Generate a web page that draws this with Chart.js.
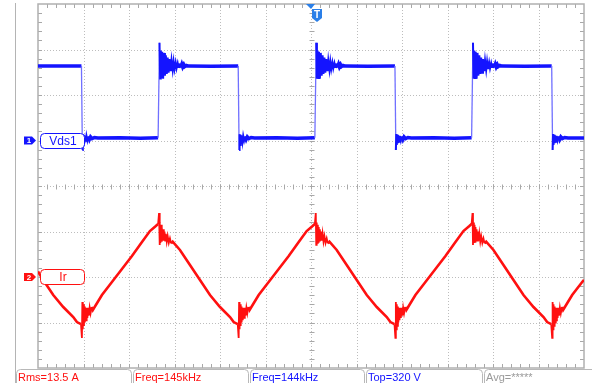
<!DOCTYPE html>
<html>
<head>
<meta charset="utf-8">
<script src="https://cdn.jsdelivr.net/npm/chart.js@4.4.1/dist/chart.umd.min.js"></script>
<style>
  html, body { margin: 0; padding: 0; background: #ffffff; }
  #wrap { width: 592px; height: 383px; position: relative; }
</style>
</head>
<body>
<div id="wrap"><canvas id="scope"></canvas></div>
<script>
// Captured traces: time in µs, Vds in volts, Ir in amperes.
const vdsTrace = [
  [0,327],[0.9,328],[1.91,327],
  // turn-off edge
  [1.95,-42],[1.97,28],[1.99,-20],[2.02,25],[2.04,-12],[2.07,22],[2.10,-5],[2.13,20],[2.17,0],[2.21,18],[2.26,5],[2.31,16],[2.38,8],[2.48,13],[2.63,11],
  [3.6,12],[4.5,10],[5.28,12],
  // turn-on edge
  [5.34,430],[5.37,272],[5.40,395],[5.43,275],[5.46,390],[5.50,272],[5.54,385],[5.58,285],[5.62,375],[5.66,292],[5.70,365],[5.74,298],[5.78,358],[5.83,305],[5.87,352],[5.92,310],[5.96,347],[6.00,314],[6.05,343],[6.09,317],[6.14,340],[6.18,319],[6.23,338],[6.27,321],[6.32,335],[6.36,323],[6.41,333],[6.45,325],[6.52,330],[6.62,327],
  [7.6,326],[8.80,327],
  [8.84,-42],[8.86,28],[8.88,-20],[8.91,25],[8.93,-12],[8.96,22],[8.99,-5],[9.02,20],[9.06,0],[9.10,18],[9.15,5],[9.20,16],[9.27,8],[9.37,13],[9.52,11],
  [10.5,12],[11.4,10],[12.17,12],
  [12.23,430],[12.26,272],[12.29,395],[12.32,275],[12.35,390],[12.39,272],[12.43,385],[12.47,285],[12.51,375],[12.55,292],[12.59,365],[12.63,298],[12.67,358],[12.72,305],[12.76,352],[12.81,310],[12.85,347],[12.89,314],[12.94,343],[12.98,317],[13.03,340],[13.07,319],[13.12,338],[13.16,321],[13.21,335],[13.25,323],[13.30,333],[13.34,325],[13.41,330],[13.51,327],
  [14.5,326],[15.69,327],
  [15.73,-42],[15.75,28],[15.77,-20],[15.80,25],[15.82,-12],[15.85,22],[15.88,-5],[15.91,20],[15.95,0],[15.99,18],[16.04,5],[16.09,16],[16.16,8],[16.26,13],[16.41,11],
  [17.4,12],[18.3,10],[19.06,12],
  [19.12,430],[19.15,272],[19.18,395],[19.21,275],[19.24,390],[19.28,272],[19.32,385],[19.36,285],[19.40,375],[19.44,292],[19.48,365],[19.52,298],[19.56,358],[19.61,305],[19.65,352],[19.70,310],[19.74,347],[19.78,314],[19.83,343],[19.87,317],[19.92,340],[19.96,319],[20.01,338],[20.05,321],[20.10,335],[20.14,323],[20.19,333],[20.23,325],[20.30,330],[20.40,327],
  [21.4,326],[22.58,327],
  [22.62,-42],[22.64,28],[22.66,-20],[22.69,25],[22.71,-12],[22.74,22],[22.77,-5],[22.80,20],[22.84,0],[22.88,18],[22.93,5],[22.98,16],[23.05,8],[23.15,13],[23.30,11],
  [24,11]
];

const irTrace = [
  [0,2.4],[0.23,-1.3],[0.67,-7.9],[1.11,-13.2],[1.55,-17.6],[1.71,-19.8],[1.89,-20.7],
  // trough with switching ripple
  [1.93,-26.8],[1.95,-11.0],[1.97,-23.0],[1.99,-12.0],[2.02,-21.5],[2.04,-13.0],[2.06,-20.0],[2.09,-13.5],[2.11,-19.0],[2.14,-13.5],[2.17,-18.0],[2.20,-13.5],[2.23,-17.0],[2.27,-13.5],[2.31,-16.0],[2.36,-13.2],[2.41,-14.5],
  [2.81,-7.9],[3.25,-2.2],[3.69,3.5],[4.13,9.2],[4.57,15.4],[4.92,20.2],[5.18,22.4],[5.28,23.3],
  // crest with switching ripple
  [5.32,28.1],[5.34,14.1],[5.36,24.0],[5.38,15.0],[5.41,23.0],[5.43,15.5],[5.45,22.0],[5.48,16.0],[5.50,21.0],[5.53,16.0],[5.56,20.0],[5.59,16.0],[5.62,19.0],[5.66,15.5],[5.70,18.0],[5.75,15.0],[5.80,17.0],[5.85,14.8],[5.92,15.5],
  [6.24,11.9],[6.68,5.3],[7.12,-1.3],[7.56,-7.9],[8.00,-13.2],[8.44,-17.6],[8.60,-19.8],[8.78,-20.7],
  [8.82,-26.8],[8.84,-11.0],[8.86,-23.0],[8.88,-12.0],[8.91,-21.5],[8.93,-13.0],[8.95,-20.0],[8.98,-13.5],[9.00,-19.0],[9.03,-13.5],[9.06,-18.0],[9.09,-13.5],[9.12,-17.0],[9.16,-13.5],[9.20,-16.0],[9.25,-13.2],[9.30,-14.5],
  [9.70,-7.9],[10.14,-2.2],[10.58,3.5],[11.02,9.2],[11.46,15.4],[11.81,20.2],[12.07,22.4],[12.17,23.3],
  [12.21,28.1],[12.23,14.1],[12.25,24.0],[12.27,15.0],[12.30,23.0],[12.32,15.5],[12.34,22.0],[12.37,16.0],[12.39,21.0],[12.42,16.0],[12.45,20.0],[12.48,16.0],[12.51,19.0],[12.55,15.5],[12.59,18.0],[12.64,15.0],[12.69,17.0],[12.74,14.8],[12.81,15.5],
  [13.13,11.9],[13.57,5.3],[14.01,-1.3],[14.45,-7.9],[14.89,-13.2],[15.33,-17.6],[15.49,-19.8],[15.67,-20.7],
  [15.71,-26.8],[15.73,-11.0],[15.75,-23.0],[15.77,-12.0],[15.80,-21.5],[15.82,-13.0],[15.84,-20.0],[15.87,-13.5],[15.89,-19.0],[15.92,-13.5],[15.95,-18.0],[15.98,-13.5],[16.01,-17.0],[16.05,-13.5],[16.09,-16.0],[16.14,-13.2],[16.19,-14.5],
  [16.59,-7.9],[17.03,-2.2],[17.47,3.5],[17.91,9.2],[18.35,15.4],[18.70,20.2],[18.96,22.4],[19.06,23.3],
  [19.10,28.1],[19.12,14.1],[19.14,24.0],[19.16,15.0],[19.19,23.0],[19.21,15.5],[19.23,22.0],[19.26,16.0],[19.28,21.0],[19.31,16.0],[19.34,20.0],[19.37,16.0],[19.40,19.0],[19.44,15.5],[19.48,18.0],[19.53,15.0],[19.58,17.0],[19.63,14.8],[19.70,15.5],
  [20.02,11.9],[20.46,5.3],[20.90,-1.3],[21.34,-7.9],[21.78,-13.2],[22.22,-17.6],[22.38,-19.8],[22.56,-20.7],
  [22.60,-26.8],[22.62,-11.0],[22.64,-23.0],[22.66,-12.0],[22.69,-21.5],[22.71,-13.0],[22.73,-20.0],[22.76,-13.5],[22.78,-19.0],[22.81,-13.5],[22.84,-18.0],[22.87,-13.5],[22.90,-17.0],[22.94,-13.5],[22.98,-16.0],[23.03,-13.2],[23.08,-14.5],
  [23.48,-7.9],[23.92,-2.2],[24,-1.3]
];

const channelNames = ['Vds1', 'Ir'];
const channelNumbers = ['1', '2'];
const measurementTexts = ['Rms=13.5 A', 'Freq=145kHz', 'Freq=144kHz', 'Top=320 V', 'Avg=*****'];

// Vertical/horizontal settings (per division)
const timePerDiv = 2;      // µs
const voltsPerDiv = 200;   // V
const ampsPerDiv = 20;     // A
const hDivs = 12, vDivs = 8;

const BLUE = '#1414ff';
const BLUE_EDGE = '#7070ff';
const RED = '#ff1010';
const FONT = '"Liberation Sans", Arial, sans-serif';

// Screen layout of the status bar boxes
const statusBoxes = [
  { x0: 16,  x1: 131, color: RED },
  { x0: 133, x1: 248, color: RED },
  { x0: 250, x1: 364, color: BLUE },
  { x0: 366, x1: 482, color: BLUE },
  { x0: 484, x1: 600, color: '#9a9a9a' }
];

function line(ctx, x0, y0, x1, y1) {
  ctx.beginPath(); ctx.moveTo(x0, y0); ctx.lineTo(x1, y1); ctx.stroke();
}

// steepness of a drawn segment in screen pixels
function steep(c) {
  const dx = Math.abs(c.p1.x - c.p0.x) || 0.01;
  return { dy: Math.abs(c.p1.y - c.p0.y), ratio: Math.abs(c.p1.y - c.p0.y) / dx };
}

const graticule = {
  id: 'graticule',
  beforeDatasetsDraw(chart) {
    const ctx = chart.ctx;
    const { left, right, top, bottom } = chart.chartArea;
    const xs = chart.scales.x, ys = chart.scales.yV;
    ctx.save();
    // left rule of the side panel
    ctx.strokeStyle = '#b4b4b4';
    ctx.lineWidth = 1;
    line(ctx, 15.5, 3, 15.5, 383);

    // dotted division lines
    ctx.strokeStyle = '#bdbdbd';
    ctx.setLineDash([1, 2]);
    for (let i = 1; i < hDivs; i++) {
      const px = Math.round(xs.getPixelForValue(i * timePerDiv)) + 0.5;
      line(ctx, px, top, px, bottom);
    }
    const vMin = ys.min;
    for (let j = 1; j < vDivs; j++) {
      const py = Math.round(ys.getPixelForValue(vMin + j * voltsPerDiv)) + 0.5;
      line(ctx, left, py, right, py);
    }
    ctx.setLineDash([]);

    // minor ticks on frame and centre axes
    ctx.strokeStyle = '#a8a8a8';
    const cx = Math.round(xs.getPixelForValue(hDivs / 2 * timePerDiv)) + 0.5;
    const cy = Math.round(ys.getPixelForValue(vMin + vDivs / 2 * voltsPerDiv)) + 0.5;
    for (let k = 1; k < hDivs * 5; k++) {
      const px = Math.round(xs.getPixelForValue(k * timePerDiv / 5)) + 0.5;
      line(ctx, px, top, px, top + 4);
      line(ctx, px, bottom - 4, px, bottom);
      line(ctx, px, cy - 2, px, cy + 3);
    }
    for (let k = 1; k < vDivs * 5; k++) {
      const py = Math.round(ys.getPixelForValue(vMin + k * voltsPerDiv / 5)) + 0.5;
      line(ctx, left, py, left + 4, py);
      line(ctx, right - 4, py, right, py);
      line(ctx, cx - 2, py, cx + 3, py);
    }

    // frame
    ctx.strokeStyle = '#b0b0b0';
    ctx.lineWidth = 1.5;
    ctx.strokeRect(left, top, right - left, bottom - top);
    ctx.restore();
  },
  afterDatasetsDraw(chart) {
    const ctx = chart.ctx;
    const { top } = chart.chartArea;
    const xs = chart.scales.x;
    ctx.save();

    // channel ground markers and name tags
    const grounds = [chart.scales.yV.getPixelForValue(0), chart.scales.yI.getPixelForValue(0)];
    const colors = [BLUE, RED];
    grounds.forEach((gy, i) => {
      const col = colors[i];
      ctx.fillStyle = col;
      ctx.beginPath();
      ctx.moveTo(24, gy - 4);
      ctx.lineTo(32, gy - 4);
      ctx.lineTo(36, gy);
      ctx.lineTo(32, gy + 4);
      ctx.lineTo(24, gy + 4);
      ctx.closePath();
      ctx.fill();
      ctx.fillStyle = '#ffffff';
      ctx.font = 'bold 8px ' + FONT;
      ctx.textAlign = 'center';
      ctx.textBaseline = 'middle';
      ctx.fillText(channelNumbers[i], 29, gy + 0.5);
      ctx.fillStyle = '#ffffff';
      ctx.strokeStyle = col;
      ctx.lineWidth = 1;
      ctx.beginPath();
      ctx.roundRect(40.5, Math.round(gy) - 7.5, 44, 15, 4);
      ctx.fill();
      ctx.stroke();
      ctx.fillStyle = col;
      ctx.font = '12px ' + FONT;
      ctx.fillText(channelNames[i], 63, gy + 1);
    });

    // trigger position marker
    const tx = Math.round(xs.getPixelForValue(hDivs / 2 * timePerDiv));
    ctx.fillStyle = '#2a7fe8';
    ctx.beginPath();
    ctx.moveTo(tx - 5, top);
    ctx.lineTo(tx + 4, top);
    ctx.lineTo(tx, top + 5);
    ctx.closePath();
    ctx.fill();
    ctx.beginPath();
    ctx.moveTo(tx + 1, top + 5);
    ctx.lineTo(tx + 11, top + 5);
    ctx.lineTo(tx + 11, top + 14);
    ctx.lineTo(tx + 6, top + 18);
    ctx.lineTo(tx + 1, top + 14);
    ctx.closePath();
    ctx.fill();
    ctx.fillStyle = '#ffffff';
    ctx.font = 'bold 10px ' + FONT;
    ctx.textAlign = 'center';
    ctx.textBaseline = 'middle';
    ctx.fillText('T', tx + 6, top + 11);

    // measurement status bar
    ctx.textAlign = 'left';
    ctx.textBaseline = 'alphabetic';
    ctx.font = '11px ' + FONT;
    statusBoxes.forEach((b, i) => {
      ctx.strokeStyle = '#b8b8b8';
      ctx.lineWidth = 1;
      ctx.beginPath();
      ctx.roundRect(b.x0 + 0.5, 369.5, b.x1 - b.x0, 20, 4);
      ctx.stroke();
      ctx.fillStyle = b.color;
      ctx.fillText(measurementTexts[i], b.x0 + 2, 380.5);
    });
    ctx.restore();
  }
};

new Chart(document.getElementById('scope'), {
  type: 'line',
  data: {
    datasets: [
      {
        label: channelNames[0],
        data: vdsTrace.map(p => ({ x: p[0], y: p[1] })),
        yAxisID: 'yV',
        borderColor: BLUE,
        borderWidth: 3.5,
        pointRadius: 0,
        tension: 0,
        segment: {
          borderColor: c => steep(c).dy > 50 ? BLUE_EDGE : BLUE,
          borderWidth: c => {
            const s = steep(c);
            if (s.dy > 50) return 1.3;
            return s.ratio > 4 ? 2 : 3.5;
          }
        }
      },
      {
        label: channelNames[1],
        data: irTrace.map(p => ({ x: p[0], y: p[1] })),
        yAxisID: 'yI',
        borderColor: RED,
        borderWidth: 2.6,
        pointRadius: 0,
        tension: 0,
        segment: {
          borderWidth: c => steep(c).ratio > 4 ? 1.8 : 2.6
        }
      }
    ]
  },
  options: {
    responsive: true,
    maintainAspectRatio: false,
    animation: false,
    events: [],
    layout: { padding: { left: 38, right: 8, top: 4, bottom: 15 } },
    plugins: { legend: { display: false }, tooltip: { enabled: false } },
    scales: {
      x: { type: 'linear', min: 0, max: hDivs * timePerDiv, display: false },
      yV: { type: 'linear', min: -5 * voltsPerDiv, max: 3 * voltsPerDiv, display: false },
      yI: { type: 'linear', min: -2 * ampsPerDiv, max: 6 * ampsPerDiv, display: false }
    }
  },
  plugins: [graticule]
});
</script>
</body>
</html>
